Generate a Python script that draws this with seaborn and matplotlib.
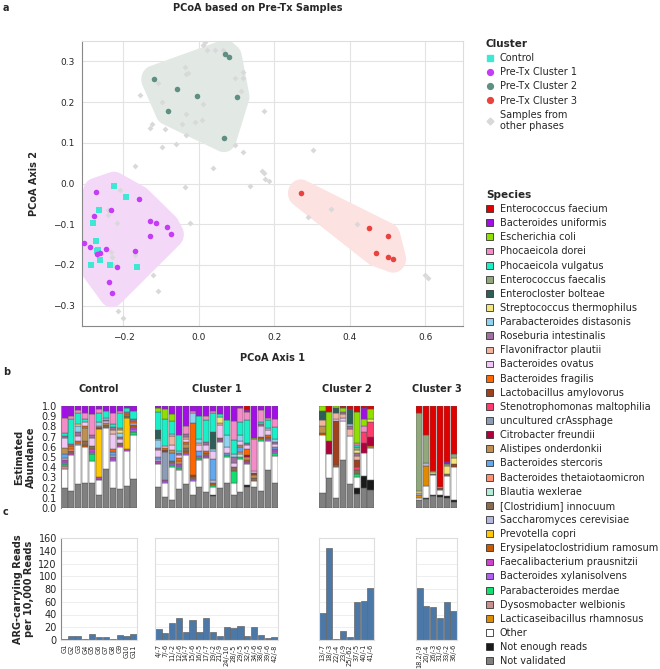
import numpy as np
import pandas as pd
import matplotlib
matplotlib.use('Agg')
import matplotlib.pyplot as plt
import seaborn as sb
from matplotlib.patches import Polygon, Patch
from matplotlib.lines import Line2D

#-----------------------------------------------------------------------------------------------------------
# data : PCoA coordinates
#-------------------------------------------------------------------------------------------------
ctrl_x = [-0.225, -0.194, -0.266, -0.281, -0.274, -0.271, -0.263, -0.287, -0.236, -0.165, -0.268]
ctrl_y = [-0.005, -0.032, -0.064, -0.098, -0.142, -0.167, -0.187, -0.199, -0.201, -0.204, -0.163]

c1_x = [-0.273, -0.233, -0.278, -0.159, -0.130, -0.114, -0.085, -0.074, -0.130, -0.305, -0.289,
        -0.247, -0.271, -0.263, -0.170, -0.218, -0.239, -0.231]
c1_y = [-0.020, -0.064, -0.081, -0.039, -0.091, -0.096, -0.106, -0.125, -0.128, -0.145, -0.155,
        -0.160, -0.172, -0.170, -0.167, -0.206, -0.241, -0.270]

c2_x = [-0.119, -0.058, -0.082, -0.005, 0.069, 0.080, 0.100, 0.066]
c2_y = [0.256, 0.231, 0.177, 0.216, 0.319, 0.310, 0.213, 0.111]

c3_x = [0.270, 0.450, 0.470, 0.500, 0.500, 0.515]
c3_y = [-0.024, -0.110, -0.170, -0.130, -0.180, -0.185]

other_x = [0.010, 0.015, 0.021, 0.042, 0.065, -0.037, -0.034, -0.030, -0.109, 0.096, 0.117, 0.116,
           0.112, -0.155, -0.099, 0.011, -0.035, 0.172, -0.125, -0.131, -0.089, -0.046, -0.010,
           0.009, -0.035, -0.099, -0.062, 0.096, 0.116, 0.303, -0.170, 0.037, 0.167, 0.172,
           0.175, 0.186, -0.037, 0.135, -0.024, -0.218, -0.210, -0.240, -0.242, -0.233, -0.231,
           -0.229, -0.170, -0.122, -0.109, -0.215, -0.200, 0.290, 0.350, 0.420, 0.600, 0.607]
other_y = [0.340, 0.347, 0.327, 0.329, 0.327, 0.287, 0.268, 0.272, 0.248, 0.260, 0.275, 0.260,
           0.228, 0.217, 0.200, 0.196, 0.170, 0.177, 0.147, 0.137, 0.135, 0.145, 0.150,
           0.155, 0.120, 0.089, 0.096, 0.094, 0.077, 0.083, 0.042, 0.038, 0.030, 0.025,
           0.012, 0.005, -0.008, -0.005, -0.098, -0.096, -0.017, -0.065, -0.077, -0.168, -0.180,
           -0.200, -0.175, -0.224, -0.263, -0.312, -0.330, -0.083, -0.062, -0.100, -0.225, -0.232]

#-----------------------------------------------------------------------------------------------------------
# data : species legend
#-------------------------------------------------------------------------------------------------
species = ['Enterococcus faecium', 'Bacteroides uniformis', 'Escherichia coli', 'Phocaeicola dorei',
           'Phocaeicola vulgatus', 'Enterococcus faecalis', 'Enterocloster bolteae',
           'Streptococcus thermophilus', 'Parabacteroides distasonis', 'Roseburia intestinalis',
           'Flavonifractor plautii', 'Bacteroides ovatus', 'Bacteroides fragilis',
           'Lactobacillus amylovorus', 'Stenotrophomonas maltophilia', 'uncultured crAssphage',
           'Citrobacter freundii', 'Alistipes onderdonkii', 'Bacteroides stercoris',
           'Bacteroides thetaiotaomicron', 'Blautia wexlerae', '[Clostridium] innocuum',
           'Saccharomyces cerevisiae', 'Prevotella copri', 'Erysipelatoclostridium ramosum',
           'Faecalibacterium prausnitzii', 'Bacteroides xylanisolvens', 'Parabacteroides merdae',
           'Dysosmobacter welbionis', 'Lacticaseibacillus rhamnosus', 'Other', 'Not enough reads',
           'Not validated']
codes = ['Efm', 'Bun', 'Eco', 'Pdo', 'Pvu', 'Efs', 'Ebo', 'Sth', 'Pdi', 'Rin', 'Fpl', 'Bov', 'Bfr',
         'Lam', 'Sma', 'crA', 'Cfr', 'Aon', 'Bst', 'Bth', 'Bwe', 'Cin', 'Sce', 'Pco', 'Era', 'Fpr',
         'Bxy', 'Pme', 'Dwe', 'Lrh', 'Other', 'NER', 'NV']
sp_colors = ['#e00000', '#a30ee8', '#8fe000', '#f48cc8', '#19f0c8', '#90a87c', '#2e5e58', '#f5e67a',
             '#8fd3f0', '#a070a0', '#f0b4a0', '#f0c8f5', '#ff6600', '#a0401c', '#ff3c6e', '#8c9cb4',
             '#b0003c', '#c09050', '#60a8f0', '#ff9070', '#b4ecd8', '#8c6a50', '#b4b8e0', '#ffc800',
             '#c85a00', '#cc44cc', '#b060f0', '#10e070', '#c89090', '#e08a00', '#ffffff', '#1a1a1a',
             '#808080']

#-----------------------------------------------------------------------------------------------------------
# data : estimated abundance per sample
#-------------------------------------------------------------------------------------------------
ctrl_comp = [
    dict(NV=.20, Other=.18, Pme=.02, Bxy=.02, Fpr=.02, Sce=.02, Bst=.04, Aon=.06, Dwe=.03, Bov=.10, Rin=.02, Pvu=.03, Pdo=.14, Bun=.12),
    dict(NV=.17, Other=.35, Fpr=.02, Cin=.02, Bth=.02, Rin=.02, Bfr=.03, Pvu=.24, Pdo=.03, Bun=.10),
    dict(NV=.24, Other=.38, crA=.02, Rin=.04, Bfr=.02, Bov=.05, Sth=.02, Pdi=.05, Pvu=.11, Pdo=.03, Bun=.04),
    dict(NV=.25, Other=.35, Era=.02, Cin=.04, Aon=.12, Bfr=.02, Bov=.04, Pvu=.03, Pdo=.06, Bun=.07),
    dict(NV=.25, Other=.21, Pme=.07, Fpr=.03, Bxy=.02, Cin=.03, Rin=.03, Bov=.08, Pdo=.20, Bun=.08),
    dict(NV=.13, Other=.14, Fpr=.02, Bxy=.01, Pco=.47, Lam=.01, Bfr=.01, Fpl=.01, Pdi=.04, Pvu=.09, Pdo=.04, Bun=.03),
    dict(NV=.38, Other=.40, Bxy=.01, Cin=.02, Aon=.02, Rin=.01, Bov=.02, Pdi=.02, Pvu=.07, Bun=.05),
    dict(NV=.20, Other=.26, Fpr=.02, Bxy=.02, Sce=.02, Bst=.03, Bfr=.03, Fpl=.03, Bov=.15, Rin=.03, Pvu=.03, Pdo=.11, Bun=.07),
    dict(NV=.19, Other=.41, Fpr=.02, Cin=.02, Rin=.02, Bov=.04, Sth=.02, Pdi=.04, Efs=.02, Pvu=.15, Pdo=.02, Bun=.05),
    dict(NV=.22, Other=.34, Fpr=.02, Cin=.02, Pco=.30, Bfr=.02, Rin=.02, Pvu=.04, Bun=.02),
    dict(NV=.28, Other=.44, Pme=.03, Fpr=.02, Bxy=.02, Era=.02, Sce=.02, Bfr=.02, Rin=.02, Pvu=.08, Bun=.05),
]
c1_comp = [
    dict(NV=.21, Other=.22, Pme=.01, Fpr=.02, Bst=.02, Sce=.02, Bov=.07, Rin=.02, Pdi=.08, Sth=.01, Ebo=.08, Pvu=.18, Eco=.04, Bun=.02),
    dict(NV=.11, Other=.14, Bxy=.01, Fpr=.01, crA=.28, Lam=.02, Bfr=.02, Bov=.02, Pvu=.26, Eco=.10, Bun=.03),
    dict(NV=.08, Other=.32, Pme=.02, Bxy=.02, Bst=.08, Aon=.03, Cin=.02, Bov=.05, Fpl=.09, Pdi=.02, Pvu=.12, Eco=.07, Bun=.08),
    dict(NV=.19, Other=.18, Pme=.02, Fpr=.02, Bxy=.02, Aon=.03, Rin=.02, Bfr=.03, Bov=.03, Pdi=.02, Pvu=.16, Bun=.28),
    dict(NV=.24, Other=.28, Bxy=.02, Cin=.03, Aon=.04, Era=.02, Bfr=.02, Rin=.03, Fpl=.02, Bov=.03, Pdo=.07, Bun=.20),
    dict(NV=.13, Other=.13, Bxy=.02, Cin=.02, Lam=.02, Bfr=.51, Pdi=.10, Pdo=.02, Bun=.05),
    dict(NV=.21, Other=.26, Pme=.02, Bxy=.02, Bst=.05, Bov=.06, Fpl=.02, Pdi=.04, Pvu=.22, Bun=.10),
    dict(NV=.16, Other=.33, Fpr=.02, Cin=.03, Bfr=.02, Bov=.06, Rin=.03, Pvu=.21, Pdo=.04, Bun=.10),
    dict(NV=.12, NER=.01, Other=.08, Pme=.02, Bst=.21, Era=.02, Sce=.02, Bov=.08, Pdi=.02, Ebo=.17, Pvu=.18, Pdo=.02, Bun=.05),
    dict(NV=.20, Other=.45, Fpr=.02, Cin=.02, Bov=.12, Fpl=.02, Sth=.06, Pvu=.03, Bun=.08),
    dict(NV=.25, Other=.25, Pme=.02, Bst=.02, Bov=.06, Pdi=.12, Pvu=.14, Bun=.14),
    dict(NV=.13, Other=.12, Pme=.11, Cin=.04, Rin=.06, Bov=.04, Pdi=.03, Pvu=.14, Pdo=.18, Bun=.15),
    dict(NV=.16, Other=.32, Pme=.02, Bst=.05, Aon=.02, Bth=.02, Bwe=.03, Bov=.04, Pdi=.06, Pvu=.12, Pdo=.14, Bun=.02),
    dict(NV=.21, NER=.02, Other=.20, Fpr=.02, Era=.02, Aon=.03, Cfr=.02, Bfr=.06, Bov=.04, Rin=.02, Pvu=.22, Pdo=.08, Bun=.02, Efm=.04),
    dict(NV=.21, Other=.05, Cin=.03, Aon=.03, Lam=.02, Bov=.02, Pdo=.32, Eco=.01, Bun=.31),
    dict(NV=.17, Other=.49, Pme=.02, Era=.02, Rin=.02, Bov=.10, Pvu=.02, Pdo=.12, Bun=.04),
    dict(NV=.37, Other=.29, Bxy=.02, Cin=.02, Bfr=.02, Bov=.04, Pdi=.02, Pvu=.08, Pdo=.02, Bun=.12),
    dict(NV=.25, Other=.26, Pme=.03, Fpr=.02, Bxy=.02, Bst=.02, Rin=.02, Bov=.03, Pdi=.03, Pvu=.11, Pdo=.08, Bun=.13),
]
c2_comp = [
    dict(NV=.15, Other=.57, Era=.02, Aon=.06, Fpl=.06, Ebo=.09, Eco=.05),
    dict(NV=.29, Other=.24, Cfr=.13, Eco=.28, Efm=.06),
    dict(NV=.10, Other=.30, Cin=.02, Lam=.43, Bov=.02, Fpl=.06, Ebo=.05, Eco=.02),
    dict(NV=.47, Other=.38, Bov=.03, Fpl=.04, Rin=.02, Eco=.04, Bun=.01, Efm=.01),
    dict(NV=.24, Other=.47, Fpl=.06, Rin=.03, Pdi=.02, Ebo=.15, Efm=.03),
    dict(NV=.14, NER=.06, Other=.10, Pme=.03, Cin=.04, Lam=.07, Sma=.03, Fpl=.04, Rin=.03, Sth=.03, Efs=.03, Pvu=.02, Pdo=.02, Eco=.30, Efm=.06),
    dict(NV=.20, NER=.11, Other=.23, Cfr=.10, Sma=.11, Pdo=.05, Eco=.07, Bun=.11, Efm=.02),
    dict(NV=.18, NER=.09, Other=.32, Lrh=.02, Cfr=.09, Sma=.14, Sth=.03, Eco=.10, Efm=.03),
]
c3_comp = [
    dict(NV=.08, Other=.02, Lrh=.03, Sce=.02, Sth=.02, Efs=.76, Efm=.07),
    dict(NV=.09, NER=.01, Other=.12, Lrh=.19, Sce=.03, Efs=.28, Efm=.28),
    dict(NV=.12, NER=.01, Other=.19, Cin=.01, Sth=.02, Efs=.01, Efm=.64),
    dict(NV=.11, NER=.02, Other=.05, Lam=.01, Cin=.01, Sth=.01, Efm=.79),
    dict(NV=.10, NER=.02, Other=.19, Cin=.02, Sth=.08, Efs=.02, Bun=.02, Efm=.55),
    dict(NV=.06, NER=.02, Other=.32, Lam=.03, Sth=.06, Efs=.04, Efm=.47),
]

#-----------------------------------------------------------------------------------------------------------
# data : ARG-carrying reads
#-------------------------------------------------------------------------------------------------
ctrl_ids = ['G1', 'G2', 'G3', 'G4', 'G5', 'G6', 'G7', 'G8', 'G9', 'G10', 'G11']
ctrl_arg = [2, 7, 7, 2, 10, 4, 4, 2, 8, 7, 10]
c1_ids = ['4/-7', '7/-6', '11/-2', '12/-6', '14/-7', '15/-6', '16/-5', '17/-7', '19/-2', '21/-9',
          '24/-10', '28/-5', '29/-5', '32/-5', '34/-6', '38/-6', '39/-6', '42/-8']
c1_arg = [18, 11, 27, 35, 13, 32, 12, 34, 13, 6, 21, 19, 22, 6, 21, 8, 3, 5]
c2_ids = ['13/-7', '18/-3', '22/-4', '23/-9', '25/-62', '37/-5', '40/-1', '41/-6']
c2_arg = [43, 145, 2, 14, 5, 59, 61, 81]
c3_ids = ['18.2/-9', '20/-4', '26/-3', '31/-6', '33/-2', '36/-6']
c3_arg = [81, 54, 51, 35, 60, 46]

#-----------------------------------------------------------------------------------------------------------
# helpers
#-------------------------------------------------------------------------------------------------
W, H = 660, 669

def rect(x0, y0, x1, y1):
    return [x0 / W, 1 - y1 / H, (x1 - x0) / W, (y1 - y0) / H]

def convex_hull(pts):
    pts = sorted(set(pts))
    def cross(o, a, b):
        return (a[0]-o[0])*(b[1]-o[1]) - (a[1]-o[1])*(b[0]-o[0])
    lower, upper = [], []
    for p in pts:
        while len(lower) >= 2 and cross(lower[-2], lower[-1], p) <= 0:
            lower.pop()
        lower.append(p)
    for p in reversed(pts):
        while len(upper) >= 2 and cross(upper[-2], upper[-1], p) <= 0:
            upper.pop()
        upper.append(p)
    return lower[:-1] + upper[:-1]

def blob(xs, ys, r):
    t = np.linspace(0, 2*np.pi, 48, endpoint=False)
    pts = [(x + r*np.cos(a), y + r*np.sin(a)) for x, y in zip(xs, ys) for a in t]
    return np.array(convex_hull(pts))

colmap = dict(zip(codes, sp_colors))
stack_order = codes[::-1]

def stacked(ax, comp):
    n = len(comp)
    tot = np.array([sum(c.values()) for c in comp])
    bottoms = np.zeros(n)
    for code in stack_order:
        vals = np.array([c.get(code, 0) for c in comp]) / tot
        idx = np.where(vals > 0)[0]
        if len(idx):
            ax.bar(idx, vals[idx], bottom=bottoms[idx], width=0.9, color=colmap[code],
                   edgecolor='#555555', linewidth=0.35)
        bottoms += vals
    ax.set_xlim(-0.5, n - 0.5)
    ax.set_ylim(0, 1)
    ax.set_xticks(range(n))
    ax.set_xticklabels([])
    ax.tick_params(axis='x', length=2, width=0.5, color='#999999')
    for s in ax.spines.values():
        s.set_visible(False)

def style_frame(ax, left_dark):
    for s in ax.spines.values():
        s.set_color('#dddddd')
        s.set_linewidth(0.8)
    if left_dark:
        ax.spines['left'].set_color('#888888')

#-----------------------------------------------------------------------------------------------------------
# figure
#-------------------------------------------------------------------------------------------------
sb.set_style('white')
plt.rcParams['font.family'] = ['DejaVu Sans']
fig = plt.figure(figsize=(6.6, 6.69), dpi=100)

# ---- panel a : PCoA scatter
ax = fig.add_axes(rect(82, 41, 463, 326))
for xs, ys, fc in [(ctrl_x + c1_x, ctrl_y + c1_y, '#f3d8f8'), (c2_x, c2_y, '#e2e9e5'), (c3_x, c3_y, '#fce2e0')]:
    poly = blob(xs, ys, 0.034)
    ax.add_patch(Polygon(poly, closed=True, facecolor=fc, edgecolor='none', zorder=1))
sb.scatterplot(x=other_x, y=other_y, ax=ax, color='#d9d9d9', marker='D', s=9, linewidth=0, zorder=2)
sb.scatterplot(x=ctrl_x, y=ctrl_y, ax=ax, color='#3ee8d2', marker='s', s=16, linewidth=0, zorder=3)
sb.scatterplot(x=c1_x, y=c1_y, ax=ax, color='#c43cf5', marker='o', s=16, linewidth=0, zorder=4)
sb.scatterplot(x=c2_x, y=c2_y, ax=ax, color='#5f8f82', marker='o', s=16, linewidth=0, zorder=4)
sb.scatterplot(x=c3_x, y=c3_y, ax=ax, color='#e8433e', marker='o', s=16, linewidth=0, zorder=4)
ax.set_xlim(-0.31, 0.70)
ax.set_ylim(-0.35, 0.35)
ax.set_xticks([-0.2, 0.0, 0.2, 0.4, 0.6])
ax.set_yticks([-0.3, -0.2, -0.1, 0.0, 0.1, 0.2, 0.3])
ax.grid(True, color='#e3e3e3', linewidth=0.8)
ax.set_axisbelow(True)
for s in ax.spines.values():
    s.set_color('#dddddd')
ax.spines['left'].set_color('#888888')
ax.spines['bottom'].set_color('#888888')
ax.tick_params(labelsize=6.5, length=3, width=0.6, color='#888888', pad=2)
ax.set_xlabel('PCoA Axis 1', fontsize=7, fontweight='bold', labelpad=8)
ax.set_ylabel('PCoA Axis 2', fontsize=7, fontweight='bold', labelpad=10)

fig.text(3 / W, 1 - 8 / H, 'a', fontsize=7, fontweight='bold', va='center')
fig.text(258 / W, 1 - 8 / H, 'PCoA based on Pre-Tx Samples', fontsize=7, fontweight='bold',
         ha='center', va='center')

cl_handles = [Line2D([], [], marker='s', color='#3ee8d2', linestyle='', markersize=4.2),
              Line2D([], [], marker='o', color='#c43cf5', linestyle='', markersize=4.2),
              Line2D([], [], marker='o', color='#5f8f82', linestyle='', markersize=4.2),
              Line2D([], [], marker='o', color='#e8433e', linestyle='', markersize=4.2),
              Line2D([], [], marker='D', color='#d9d9d9', linestyle='', markersize=3.5)]
cl_labels = ['Control', 'Pre-Tx Cluster 1', 'Pre-Tx Cluster 2', 'Pre-Tx Cluster 3',
             'Samples from\nother phases']
leg1 = fig.legend(cl_handles, cl_labels, loc='upper left', bbox_to_anchor=(482 / W, 1 - 35 / H),
                  frameon=False, fontsize=7, title='Cluster', alignment='left',
                  title_fontproperties={'weight': 'bold', 'size': 7.5},
                  handlelength=0.8, handletextpad=0.6, labelspacing=0.43, borderaxespad=0)

sp_handles = [Patch(facecolor=c, edgecolor='#333333', linewidth=0.6) for c in sp_colors]
leg2 = fig.legend(sp_handles, species, loc='upper left', bbox_to_anchor=(482 / W, 1 - 186 / H),
                  frameon=False, fontsize=7, title='Species', alignment='left',
                  title_fontproperties={'weight': 'bold', 'size': 7.5},
                  handlelength=0.7, handleheight=0.7, handletextpad=0.7, labelspacing=0.425,
                  borderaxespad=0)

# ---- panel b : stacked abundance
xb = [(61, 137), (155, 278), (319, 374), (416, 457)]
titles = ['Control', 'Cluster 1', 'Cluster 2', 'Cluster 3']
comps = [ctrl_comp, c1_comp, c2_comp, c3_comp]
for i, (x0, x1) in enumerate(xb):
    axb = fig.add_axes(rect(x0, 406, x1, 508))
    stacked(axb, comps[i])
    axb.set_title(titles[i], fontsize=7, fontweight='bold', pad=10)
    if i == 0:
        axb.set_yticks(np.arange(0, 1.01, 0.1))
        axb.set_yticklabels([f'{v:.1f}' for v in np.arange(0, 1.01, 0.1)])
        axb.tick_params(axis='y', labelsize=7, length=2, width=0.5, color='#888888', pad=1)
        axb.spines['left'].set_visible(True)
        axb.spines['left'].set_color('#888888')
        axb.set_ylabel('Estimated\nAbundance', fontsize=7, fontweight='bold', labelpad=4)
    else:
        axb.set_yticks([])
fig.text(3 / W, 1 - 372 / H, 'b', fontsize=7, fontweight='bold', va='center')

# ---- panel c : ARG-carrying reads
ids = [ctrl_ids, c1_ids, c2_ids, c3_ids]
args = [ctrl_arg, c1_arg, c2_arg, c3_arg]
for i, (x0, x1) in enumerate(xb):
    axc = fig.add_axes(rect(x0, 538, x1, 640))
    df = pd.DataFrame({'sample': ids[i], 'reads': args[i]})
    sb.barplot(data=df, x='sample', y='reads', ax=axc, color='#4c78a8', saturation=1,
               edgecolor='#666666', linewidth=0.5, width=0.92)
    axc.set_xlim(-0.5, len(ids[i]) - 0.5)
    axc.set_ylim(0, 160)
    axc.set_yticks(range(0, 161, 20))
    axc.yaxis.grid(True, color='#eeeeee', linewidth=0.7)
    axc.set_axisbelow(True)
    axc.set_xlabel('')
    axc.tick_params(axis='x', labelsize=4.8, rotation=90, length=2, width=0.5, color='#999999', pad=1)
    style_frame(axc, i == 0)
    if i == 0:
        axc.tick_params(axis='y', labelsize=7, length=2, width=0.5, color='#888888', pad=1)
        axc.set_ylabel('ARG-carrying Reads\nper 10,000 Reads', fontsize=7, fontweight='bold', labelpad=3)
    else:
        axc.set_yticklabels([])
        axc.tick_params(axis='y', length=0)
        axc.set_ylabel('')
fig.text(3 / W, 1 - 512 / H, 'c', fontsize=7, fontweight='bold', va='center')

fig.savefig('out.png', dpi=100)
